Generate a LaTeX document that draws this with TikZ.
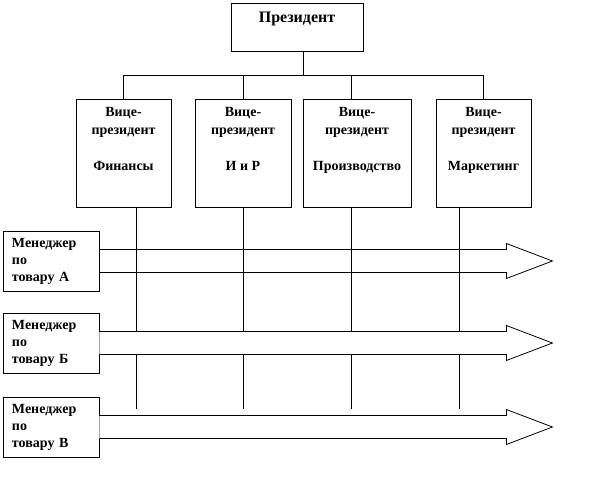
\documentclass[tikz,border=0pt]{standalone}
\usepackage{fontspec}
\setmainfont{Liberation Serif}
\usetikzlibrary{positioning}

\begin{document}
\begin{tikzpicture}
  [x=0.75pt,y=-0.75pt,line width=0.6pt,every node/.style={inner sep=0pt},
   unitbox/.style={draw,rectangle,minimum height=81pt},
   boxtext/.style={font=\bfseries\fontsize{10.5}{13.5}\selectfont,align=center},
   mgrbox/.style={draw,rectangle,minimum height=45pt,text width=58.5pt,inner xsep=6.75pt,
                  align=left,font=\bfseries\fontsize{10.5}{12.75}\selectfont}]
  \useasboundingbox (0,0) rectangle (615,497);

  \node[draw,rectangle,minimum width=99pt,minimum height=36pt] (pres) at (297,27) {};
  \node[font=\bfseries\fontsize{12}{14}\selectfont,below=7pt of pres.north] (prest) {Президент};

  \node[unitbox,minimum width=71.25pt] (vp1) at (123.5,153) {};
  \node[unitbox,minimum width=72pt] (vp2) at (243,153) {};
  \node[unitbox,minimum width=81pt] (vp3) at (357,153) {};
  \node[unitbox,minimum width=71.25pt] (vp4) at (483.5,153) {};
  \node[boxtext,below=6pt of vp1.north] (vp1t) {Вице-\\президент\\[13.5pt]Финансы};
  \node[boxtext,below=6pt of vp2.north] (vp2t) {Вице-\\президент\\[13.5pt]И и Р};
  \node[boxtext,below=6pt of vp3.north] (vp3t) {Вице-\\президент\\[13.5pt]Производство};
  \node[boxtext,below=6pt of vp4.north] (vp4t) {Вице-\\президент\\[13.5pt]Маркетинг};

  \node[mgrbox] (mA) at (51,261) {Менеджер\\по\\товару А};
  \node[mgrbox] (mB) at (51,343) {Менеджер\\по\\товару Б};
  \node[mgrbox] (mC) at (51,427) {Менеджер\\по\\товару В};

  % president to the vice-presidents
  \coordinate (top) at (303,75);
  \coordinate (b1) at (123,75);
  \coordinate (b2) at (243,75);
  \coordinate (b3) at (351,75);
  \coordinate (b4) at (483,75);
  \draw (top |- pres.south) -- (top);
  \draw (b1) -- (b4);
  \foreach \b/\v in {b1/vp1,b2/vp2,b3/vp3,b4/vp4}
    \draw (\b) -- (\b |- \v.north);

  % lines down through the product arrows
  \foreach \x/\v in {136/vp1,243/vp2,351/vp3,459/vp4}{
    \coordinate (l\v) at (\x,409);
    \draw (l\v |- \v.south) -- (l\v);
  }

  \foreach \m/\f in {mA/none,mB/white,mC/white}
    \draw[fill=\f,shift={(\m.east)}] (0,-11.5) -- (407,-11.5) -- (407,-17.5) -- (453,0)
      -- (407,17.5) -- (407,11.5) -- (0,11.5);

\end{tikzpicture}
\end{document}
